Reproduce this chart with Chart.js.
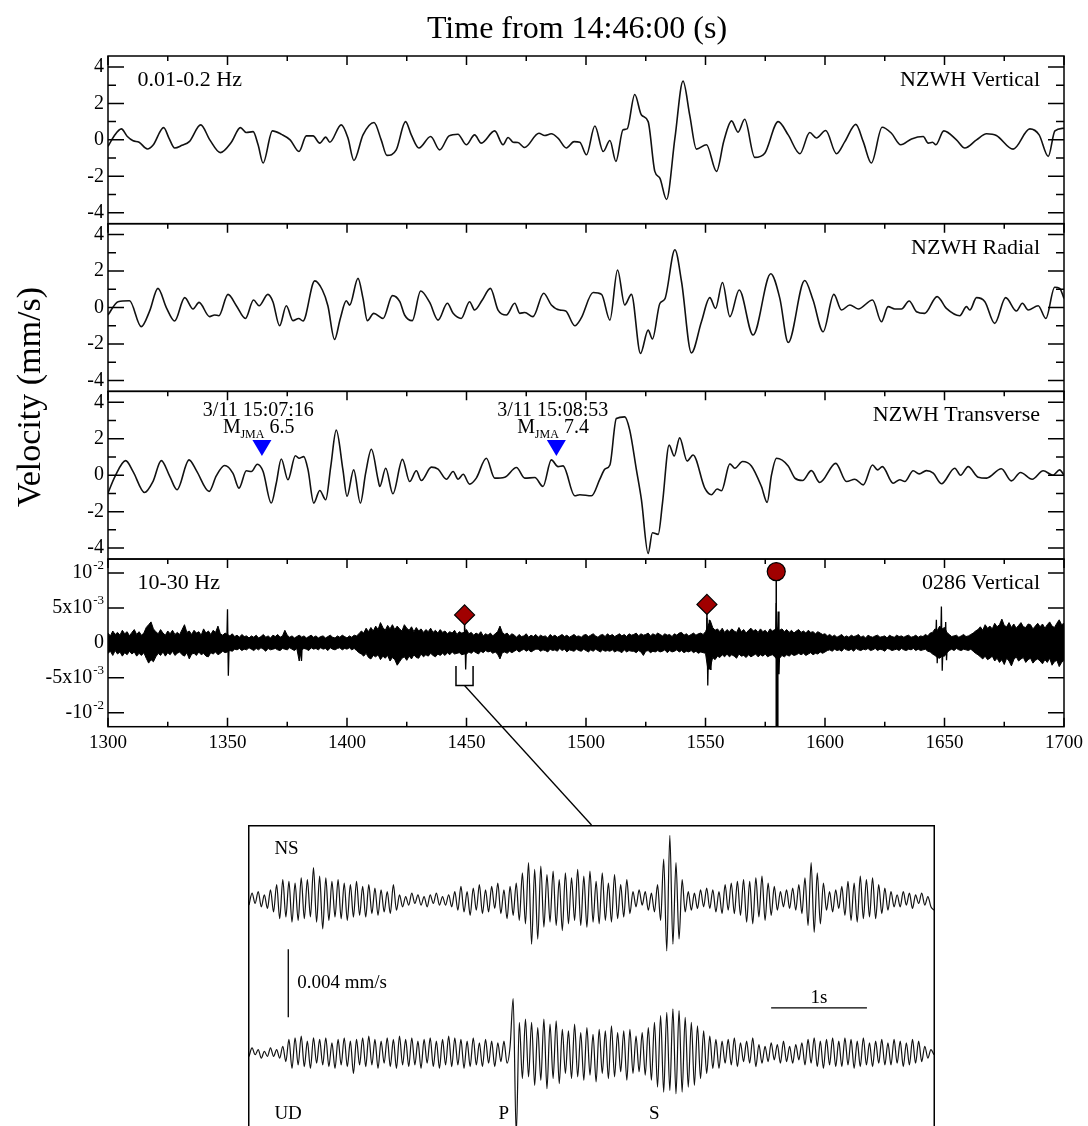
<!DOCTYPE html>
<html><head><meta charset="utf-8">
<script src="https://cdn.jsdelivr.net/npm/chart.js@4.4.1/dist/chart.umd.min.js"></script>
<style>
html,body{margin:0;padding:0;background:#fff;}
#wrap{position:relative;width:1088px;height:1126px;overflow:hidden;background:#fff;}
#main{position:absolute;left:0;top:0;}
#inset{position:absolute;left:248px;top:825px;}
</style></head><body>
<div id="wrap"><canvas id="main" width="1088" height="1126"></canvas><canvas id="inset" width="687" height="301"></canvas></div>
<script>
// ---------------- DATA ----------------
const xTickValues = [1300,1350,1400,1450,1500,1550,1600,1650,1700];
const xMinorTicks = [1325,1375,1425,1475,1525,1575,1625,1675];
const yTickValues = [-4,-2,0,2,4];
const yMinorTicks = [-3,-1,1,3];
const noiseTickValues = [-10,-5,0,5,10];
const noiseTickBase = ['-10','-5x10','0','5x10','10'];
const noiseTickExp = ['-2','-3','','-3','-2'];

const panelLeftLabels = ['0.01-0.2 Hz','','','10-30 Hz'];
const panelRightLabels = ['NZWH Vertical','NZWH Radial','NZWH Transverse','0286 Vertical'];

// Panel 1: NZWH Vertical (mm/s)
const vertTimes = [1300,1302.5,1305.6,1308,1310.5,1313,1316.5,1318.8,1323.3,1325.5,1327.9,1331,1334,1338.8,1342.6,1347,1351.6,1355.4,1357.8,1360.7,1362.8,1364.9,1368.8,1372.6,1376.2,1379.9,1383,1385.8,1388.6,1391.1,1392.8,1397.6,1400.4,1402.9,1406.7,1411.3,1414.3,1416.7,1420.6,1424.5,1426.9,1430.1,1435,1438.8,1442.7,1446.4,1449.9,1453.4,1456.2,1461.8,1465.3,1467.4,1469.5,1471.5,1474.3,1480.3,1482.7,1485.5,1488.3,1491.8,1495,1497.4,1500.2,1503.7,1507.2,1510,1512.5,1515.5,1517.2,1520.4,1523.2,1526,1528.8,1530.9,1533.7,1537.2,1540.6,1543.4,1546.2,1550.4,1554.6,1557.7,1560.9,1563.6,1566.4,1570.6,1574.8,1580.4,1584.6,1589.5,1593.6,1596.4,1600.3,1604.8,1608.3,1612.9,1616,1619.4,1623.9,1627.8,1631.7,1636.2,1641.1,1643.2,1645,1646.4,1649.7,1655,1658.5,1663.4,1667.6,1671.7,1678.7,1685.7,1689.6,1693.4,1696.2,1700];
const vertValues = [-0.36,0.2,0.6,0.2,-0.05,-0.13,-0.5,-0.3,0.67,0.1,-0.45,-0.3,-0.1,0.82,0.0,-0.7,-0.13,0.67,0.4,0.45,-0.27,-1.27,0.49,0.3,0,-0.64,0.22,0.22,-0.18,0.15,-0.13,0.82,0.1,-1.13,0.27,0.95,0,-0.85,-0.55,1.0,0.27,-0.45,0.18,-0.55,0.22,0.31,-0.27,0.27,-0.18,0.49,-0.27,0.13,-0.13,-0.15,-0.42,0.36,0.24,0.33,0.09,-0.45,-0.1,-0.13,-0.82,0.76,-0.64,-0.04,-1.18,0.55,0.6,2.49,1.36,1.0,-1.73,-2.1,-3.27,0.09,3.22,1.36,-0.51,-0.27,-1.73,-0.05,1.04,0.42,1.13,-0.96,-0.73,1.0,0.27,-0.76,0.4,0.1,0.51,-0.76,-0.1,0.85,-0.1,-1.27,0.69,0.36,-0.27,0.05,0.18,-0.18,-0.13,-0.27,0.49,0.0,-0.45,0,0.33,0.24,-0.51,0.6,0.27,-0.91,0.49,0.64];

// Panel 2: NZWH Radial (mm/s)
const radTimes = [1300,1304.2,1309,1313.9,1317.4,1320.9,1324.4,1327.9,1332.1,1335.6,1338.1,1342.5,1344.6,1346.4,1350.2,1353.7,1357.5,1360.9,1363.2,1366.9,1369,1371.8,1374.6,1377.4,1379.8,1381.6,1386.5,1389.7,1392,1394.8,1397.2,1399.7,1401.1,1404.6,1406.7,1408.5,1411.2,1415.1,1419,1422.1,1424.1,1427.3,1430.8,1434.6,1438.1,1442,1444.4,1447.8,1451.3,1453.4,1456.6,1460,1463.2,1466.7,1470.2,1472.3,1474.4,1477.8,1482.3,1485.5,1489,1491.5,1495.3,1497.9,1503,1506.5,1510,1513.2,1516.2,1519,1522.8,1526,1527.8,1530.9,1533,1537.2,1540,1544.1,1548.3,1551.8,1554.2,1557.1,1560.2,1564.1,1569.9,1577.3,1581.1,1584.6,1591.5,1595,1599.2,1603.7,1606.9,1610.4,1613.9,1619.9,1623.6,1626.4,1629.2,1632,1635.2,1638.3,1641.7,1646.9,1650.8,1656.4,1659.2,1660.6,1663.4,1666.9,1671,1675.6,1680.1,1682.6,1685,1689.2,1692.4,1696.1,1698.2,1700];
const radValues = [-0.41,0.32,0.37,-1.05,-0.2,1.05,0,-0.74,0.54,-0.08,0.28,-0.5,-0.41,-0.45,0.72,0.1,-0.6,0.41,0.1,0.72,0.32,-1.0,0.1,-0.72,-0.6,-0.74,1.46,0.96,0.1,-1.75,-0.6,0.37,0.13,1.6,0.5,-0.72,-0.32,-0.6,0.65,0.32,-0.41,-0.72,0.91,0.28,-0.69,0.23,-0.32,-0.6,0.32,-0.14,0.41,1.05,-0.14,-0.41,0.23,-0.32,-0.27,-0.5,0.78,0.14,-0.14,-0.19,-1.0,-0.6,0.82,0.72,-0.69,2.06,0.14,0.72,-2.52,-1.24,-1.73,0.22,0.47,3.17,1.4,-2.49,-0.78,0.54,-0.05,1.37,-0.5,0.96,-1.51,1.85,0.5,-1.92,1.48,0.41,-1.33,0.72,-0.14,0.14,-0.08,0.41,-0.78,0.05,-0.08,-0.08,0.36,-0.23,-0.32,0.6,-0.05,-0.45,0.05,-0.14,0.54,0.32,-0.87,0.54,-0.19,0.23,-0.14,0.1,-0.6,1.11,1.05,0.5];

// Panel 3: NZWH Transverse (mm/s)
const transTimes = [1300,1302.8,1307.4,1310.5,1315.3,1318.8,1322.3,1325.8,1328.9,1333.9,1337,1342.3,1345.3,1348.8,1352.3,1354.8,1357.9,1360,1362.5,1364.9,1368.3,1370.4,1372.5,1375.3,1378.4,1380,1381.9,1383.7,1386.1,1388.6,1391.1,1393.2,1395.5,1398.3,1400,1402.8,1405.6,1407.8,1410.2,1413,1413.7,1416.2,1419.2,1423.2,1426.2,1429,1431.1,1435.3,1438.1,1441.6,1444.4,1446.5,1448.6,1451.3,1454.1,1458.3,1461.8,1466,1470.9,1474.4,1478.6,1482,1485.5,1488.3,1490.4,1495.3,1497.4,1502.3,1505.8,1507.9,1510,1512.7,1516.2,1518.3,1521.1,1523.2,1526,1527.8,1530.2,1532,1534.8,1536.9,1539.2,1542.3,1544.8,1549.7,1552.5,1554.9,1556.7,1560.2,1562.3,1565.5,1569.2,1573.4,1575.8,1577.6,1579.7,1584.6,1587.4,1590.6,1594.3,1597.8,1604.5,1609,1612.5,1616,1619.9,1622,1624,1628.5,1631.3,1633.4,1636.9,1639.4,1642.4,1645.3,1648.7,1654.3,1656.7,1659.9,1664.1,1667.6,1673.8,1678,1681.8,1686.7,1691.3,1695.4,1698.2,1700];
const transValues = [-0.98,-0.1,0.8,0.2,-0.95,-0.35,0.8,-0.05,-0.8,0.84,0.25,-0.89,-0.04,0.53,0.1,-0.71,0.24,0.2,0.6,0.2,-1.53,-0.44,0.89,-0.25,1.07,0.93,1.02,0.29,-1.53,-0.84,-1.35,0.47,2.47,0.29,-1.16,0.29,-1.53,0.11,1.42,-0.25,-0.62,0.38,-1.02,0.87,-0.35,0.24,-0.29,0.44,0.33,-0.22,0.2,-0.22,0.05,-0.49,-0.16,0.93,-0.16,-0.11,0.42,-0.16,-0.13,-0.62,0.84,0.47,0.51,-1.13,-1.07,-1.13,-0.22,0.33,0.56,3.11,3.2,2.47,0.29,-1.35,-4.29,-3.16,-3.25,-1.53,1.65,1.05,2.05,0.78,1.11,-0.71,-1.07,-0.76,-0.85,0.62,0.38,0.75,0.51,-0.62,-1.49,0,0.93,0.51,-0.16,-0.29,0.25,-0.4,0.65,-0.35,-0.22,-0.53,0.56,0.29,0.47,-0.44,-0.25,-0.35,0.24,0.07,0.25,0.11,-0.47,0.38,0,0.47,-0.11,-0.16,0.35,-0.31,0.15,-0.22,0.24,0,0.29,0];

// Panel 4: station 0286 vertical, 10-30 Hz; envelope of the trace (1e-3 mm/s), one value per second from 1300 s
const noiseStart = 1300, noiseStep = 1;
const noiseUpper = [
1.4,1.0,1.7,1.2,1.5,1.1,1.8,1.3,1.6,1.0,
1.5,1.9,1.2,1.6,1.1,1.4,2.2,2.6,3.0,2.0,
1.6,1.3,1.9,1.4,1.1,1.7,1.3,1.8,1.2,1.5,
1.2,1.9,2.6,1.5,1.7,1.2,1.8,1.4,1.6,1.1,
2.0,1.4,1.7,1.2,1.8,1.5,2.4,1.3,1.1,1.4,
1.2,1.0,1.3,0.9,1.1,0.8,1.2,0.9,1.0,0.7,
1.0,0.8,1.1,0.7,0.9,1.2,0.8,1.0,0.7,1.1,
0.9,1.2,0.8,1.0,1.8,1.1,0.8,1.0,0.7,0.9,
1.1,0.8,1.0,0.7,0.9,1.1,0.8,1.0,0.7,0.9,
1.0,0.7,0.9,1.1,0.8,0.7,1.0,0.8,1.1,0.9,
0.7,1.0,0.8,1.1,1.0,1.3,1.7,1.4,2.1,1.6,
2.2,1.7,2.4,1.9,2.9,2.2,1.8,2.5,2.0,2.6,
1.9,2.4,2.0,1.7,2.6,2.1,1.8,2.3,1.6,2.2,
1.7,2.0,1.5,1.9,1.6,2.1,1.5,1.8,1.4,1.9,
1.5,1.7,1.3,1.6,1.4,1.8,1.2,1.6,1.4,1.5,
1.9,1.3,1.5,1.1,1.4,1.2,1.6,1.0,1.3,1.1,
1.4,1.0,1.3,1.6,2.4,1.5,1.2,1.4,1.0,1.3,
1.1,0.8,1.2,0.9,1.0,1.3,0.8,1.1,0.9,1.2,
0.8,1.1,0.9,1.0,0.7,1.2,0.9,1.1,0.8,1.0,
1.2,0.9,1.1,0.8,1.0,1.2,0.9,1.0,0.8,1.1,
1.2,0.9,1.1,1.3,1.0,0.8,1.1,1.2,0.9,1.3,
1.0,1.2,0.9,1.1,1.3,1.0,1.2,0.9,1.3,1.1,
1.2,1.4,1.0,1.3,1.1,1.2,1.4,1.0,1.3,1.1,
1.4,1.2,1.0,1.3,1.1,1.2,0.9,1.3,1.1,1.4,
1.5,1.1,1.3,1.0,1.2,1.4,1.1,1.3,1.4,1.2,
1.6,2.4,3.2,2.2,1.8,2.0,1.6,2.1,1.5,1.9,
1.6,2.0,1.7,1.5,2.2,1.6,1.9,1.4,1.8,2.1,
1.7,1.9,1.5,2.0,1.6,1.8,1.4,2.0,1.7,1.9,
2.2,1.8,2.0,1.6,1.9,1.5,1.8,1.4,1.7,1.9,
1.5,1.7,1.4,1.8,1.5,1.6,1.3,1.6,1.4,1.2,
1.3,1.0,1.2,0.9,1.1,0.8,1.0,1.2,0.8,1.0,
0.8,1.1,0.9,1.0,1.2,0.8,1.0,0.7,1.1,0.9,
0.8,1.0,1.1,0.8,0.9,1.0,0.7,1.1,0.9,0.8,
1.1,0.9,1.0,0.8,1.0,1.1,0.8,0.9,1.1,0.8,
1.0,0.9,1.2,1.0,1.4,1.5,2.0,1.8,2.4,2.0,
2.2,1.5,1.2,0.9,1.0,1.1,0.8,1.0,1.2,0.9,
1.0,1.2,1.4,1.7,1.9,2.3,1.8,2.6,2.1,2.4,
2.0,2.8,2.3,2.6,3.4,2.5,2.3,2.9,2.2,2.7,
2.1,2.5,2.9,2.3,2.2,2.7,2.6,2.0,2.4,2.8,
2.3,2.7,2.1,2.6,3.0,2.4,2.2,2.8,3.3,2.6,
2.8];
const noiseLower = [
-1.5,-1.2,-1.8,-1.1,-1.6,-1.3,-1.9,-1.4,-1.7,-1.2,
-1.6,-1.3,-1.9,-1.5,-1.8,-1.4,-2.2,-2.9,-2.4,-2.7,
-2.0,-1.5,-1.8,-1.3,-1.9,-1.4,-1.7,-1.2,-1.8,-1.5,
-1.3,-1.7,-1.9,-1.4,-2.3,-1.6,-1.5,-1.8,-1.3,-1.7,
-1.5,-1.9,-2.0,-1.4,-1.6,-1.3,-1.7,-1.5,-1.2,-1.4,
-1.3,-1.1,-1.2,-0.9,-1.0,-0.8,-1.1,-0.9,-1.0,-0.7,
-0.9,-1.1,-0.8,-1.0,-0.7,-0.9,-1.2,-0.8,-1.0,-0.9,
-0.8,-1.0,-1.1,-0.8,-0.9,-1.0,-0.7,-0.9,-1.1,-0.8,
-2.6,-1.0,-0.8,-0.9,-1.1,-0.7,-0.9,-0.8,-1.0,-0.7,
-0.9,-0.8,-1.1,-0.7,-0.9,-1.0,-0.8,-0.7,-1.0,-0.8,
-0.9,-0.7,-1.0,-0.8,-1.1,-1.4,-1.6,-1.9,-1.5,-2.1,
-2.3,-1.8,-2.0,-1.7,-2.4,-1.9,-2.2,-1.8,-2.6,-2.1,
-2.4,-3.2,-2.7,-2.2,-2.0,-2.5,-1.9,-2.3,-1.7,-2.1,
-2.2,-1.6,-2.0,-1.7,-1.9,-1.5,-1.8,-2.0,-1.6,-1.8,
-1.5,-1.8,-1.4,-1.7,-1.3,-1.6,-1.5,-1.4,-1.7,-1.6,
-1.6,-1.3,-1.5,-1.2,-1.4,-1.6,-1.2,-1.4,-1.1,-1.3,
-1.2,-1.5,-1.3,-1.6,-2.3,-1.4,-1.3,-1.5,-1.2,-1.4,
-1.2,-1.0,-1.3,-1.1,-0.9,-1.2,-1.0,-1.3,-1.1,-0.9,
-0.9,-1.2,-1.0,-1.1,-1.3,-0.9,-1.1,-1.0,-1.2,-0.8,
-1.1,-0.9,-1.3,-1.0,-1.1,-1.2,-0.9,-1.1,-1.2,-0.9,
-1.1,-1.3,-1.0,-1.2,-0.9,-1.1,-1.3,-1.0,-1.2,-1.1,
-1.2,-1.0,-1.3,-1.1,-1.2,-1.4,-1.0,-1.3,-1.1,-1.2,
-1.2,-1.4,-1.1,-1.3,-1.8,-1.2,-1.1,-1.4,-1.2,-1.3,
-1.1,-1.3,-1.2,-1.0,-1.4,-1.1,-1.3,-1.2,-1.0,-1.3,
-1.1,-1.4,-1.2,-1.3,-1.1,-1.4,-1.2,-1.5,-1.3,-1.4,
-1.5,-3.8,-3.6,-2.1,-2.4,-1.9,-2.1,-1.7,-2.0,-1.6,
-2.0,-1.7,-1.9,-2.2,-1.6,-1.9,-1.8,-2.1,-1.7,-2.0,
-1.8,-1.6,-2.0,-1.7,-1.9,-1.6,-2.0,-1.8,-1.7,-2.0,
-2.4,-2.2,-1.8,-2.0,-1.7,-1.9,-1.6,-1.8,-1.7,-1.5,
-1.7,-1.5,-1.8,-1.6,-1.4,-1.7,-1.5,-1.6,-1.3,-1.5,
-1.3,-1.1,-1.0,-1.2,-0.9,-1.1,-1.0,-1.2,-0.8,-1.0,
-1.1,-0.9,-1.2,-0.8,-1.0,-1.1,-0.9,-1.0,-0.8,-1.1,
-1.0,-0.8,-1.1,-0.9,-1.0,-1.2,-0.8,-0.9,-1.1,-1.0,
-0.9,-1.1,-0.8,-1.0,-1.1,-0.9,-1.0,-0.8,-1.1,-0.9,
-1.1,-1.0,-0.9,-1.2,-1.3,-1.6,-1.8,-2.1,-2.2,-1.9,
-1.9,-1.4,-1.1,-0.9,-1.1,-0.8,-1.0,-1.1,-0.9,-1.0,
-1.1,-0.9,-1.2,-1.5,-1.7,-2.0,-2.3,-1.9,-2.4,-2.2,
-1.9,-2.6,-2.2,-2.8,-2.4,-3.1,-2.2,-2.6,-3.3,-2.4,
-2.0,-2.6,-2.3,-2.1,-2.8,-2.4,-2.2,-2.9,-2.5,-2.3,
-2.6,-3.0,-2.4,-2.8,-2.2,-3.2,-2.7,-2.5,-3.4,-2.8,
-2.5];
// isolated spikes (1e-3 mm/s)
const spikeTimes = [1350.0,1380.6,1449.3,1550.6,1551.6,1579.6,1580.4,1646.6,1648.7,1650.5];
const spikeUp    = [4.8,1.0,2.1,3.6,3.3,5.7,4.5,3.3,5.2,3.0];
const spikeDown  = [-4.7,-2.6,-3.8,-6.1,-3.8,-12.5,-4.5,-2.9,-4.0,-2.5];
// event markers on the 0286 trace
const markerTimes = [1449.2,1550.6,1579.6];
const markerValues = [4.0,5.5,10.2];
const markerShapes = ['diamond','diamond','circle'];
const markerStemEnds = [0,0,-12];
// JMA events on the transverse panel
const eventTimes = [1364.4,1487.6];
const eventLevel = 1.05;
const eventDates = ['3/11 15:07:16','3/11 15:08:53'];
const eventMags = ['6.5','7.4'];
// zoom window
const insetStart = 1445.6, insetDuration = 7.15;
const bracketTop = -3.3, bracketBottom = -6.1;

// Inset: NS and UD traces (1e-3 mm/s), evenly sampled over the window
const insetNS = [
-0.3,0.4,-0.2,0.5,-0.4,0.3,-0.5,0.6,-0.7,
0.9,-1.1,1.2,-1.0,1.1,-1.3,1.0,-1.2,1.3,-1.1,1.2,-1.0,1.9,-1.3,1.4,-1.7,1.3,-1.2,1.1,-1.0,1.2,-1.1,1.0,-1.2,0.9,-1.0,1.1,-0.9,0.8,-1.0,0.9,-0.8,0.7,-0.9,0.6,-0.7,0.5,-0.8,0.9,-0.6,
0.3,-0.4,0.2,-0.3,0.4,-0.2,0.3,-0.3,0.2,-0.4,0.3,-0.2,0.4,-0.3,0.2,-0.3,0.3,-0.4,0.5,
-0.6,0.8,-0.7,0.5,-0.9,0.7,-0.6,0.9,-0.8,0.6,-0.7,0.8,-0.5,1.0,-0.8,0.6,-1.1,0.8,-0.9,1.0,-1.2,
1.6,-1.4,2.2,-2.6,1.8,-2.3,2.0,-1.6,1.5,-1.3,1.7,-1.5,1.2,-1.8,1.6,-1.4,1.3,-1.2,1.8,-1.5,1.4,-1.6,1.7,-1.3,1.1,-1.4,1.6,-1.2,1.0,-1.3,1.5,-1.1,0.9,-1.0,1.2,-0.8,
0.5,-0.4,0.6,-0.3,0.5,-0.6,0.4,-0.7,0.9,
-1.2,2.4,-3.0,3.8,-2.6,2.2,-2.3,1.2,
-0.7,0.5,-0.6,0.4,-0.5,0.6,-0.4,0.7,-0.5,0.6,-0.7,0.5,-0.8,0.9,-0.6,1.0,-0.8,1.1,-0.9,1.2,
-1.3,1.1,-1.4,1.3,-1.0,1.4,-1.2,1.0,-0.9,0.8,
-0.6,0.5,-0.4,0.6,-0.5,0.7,-0.6,0.9,-0.8,
1.3,-1.5,2.2,-1.9,1.6,-1.4,1.0,
-0.6,0.5,-0.7,0.6,-0.5,0.8,
-0.9,1.1,-1.2,1.0,-1.3,1.4,-1.1,1.2,-1.0,1.3,-1.1,0.9,-0.8,0.7,-0.6,
0.5,-0.4,0.3,-0.4,0.5,-0.3,0.4,-0.5,0.3,-0.2,0.4,-0.3,0.2,-0.4,-0.6];
const insetUD = [
-0.2,0.3,-0.1,0.2,-0.3,0.1,-0.2,0.3,-0.2,0.2,-0.3,0.4,-0.5,
0.8,-0.9,0.9,-0.7,1.0,-0.8,0.7,-0.9,0.9,-0.6,
0.8,-0.7,0.9,-0.8,0.6,-0.9,0.8,-0.7,0.9,-0.8,
0.7,-1.2,0.8,-0.7,0.9,-0.8,1.0,-0.7,0.8,-0.9,
0.7,-0.6,0.9,-0.8,0.8,-0.9,1.0,-0.7,0.8,-0.8,
0.9,-0.7,0.7,-0.9,0.8,-0.6,0.9,-0.8,0.7,-0.9,
0.8,-0.7,1.0,-0.8,0.9,-0.7,0.8,-0.9,0.7,-0.8,
0.9,-0.7,0.6,-0.8,0.8,-0.6,0.7,-0.8,0.6,-0.5,
0.7,-0.6,0.4,3.2,-4.8,1.8,
-1.5,2.0,-1.4,1.8,-1.9,1.5,-1.6,2.0,-2.1,1.7,
-1.5,1.9,-1.8,1.4,-1.2,1.3,-1.5,1.7,-1.4,1.2,
-1.6,1.5,-1.3,1.1,-1.7,1.4,-1.2,1.3,-1.5,1.6,
-1.4,1.2,-1.1,1.3,-1.6,1.4,-1.2,1.0,-1.1,1.2,
-1.3,1.5,
-1.6,1.8,-2.0,2.2,-2.3,2.4,-2.2,2.6,-2.4,2.5,-2.3,2.1,-2.0,1.8,-1.9,1.6,-1.5,1.3,-1.2,1.0,-0.9,
0.8,-0.9,0.7,-0.6,0.8,-0.7,0.9,-0.8,0.6,-0.5,
0.7,-0.6,0.9,-0.8,0.5,-0.6,0.4,-0.5,0.6,-0.4,
0.5,-0.6,0.7,-0.5,0.4,-0.6,0.5,-0.4,0.6,-0.7,
0.8,-0.6,0.9,-0.8,0.7,-0.9,0.8,-0.7,0.9,-0.8,
0.7,-0.8,0.9,-0.7,0.8,-0.9,0.7,-0.8,0.9,-0.7,
0.6,-0.8,0.7,-0.6,0.8,-0.7,0.6,-0.7,0.8,-0.6,
0.7,-0.8,0.6,-0.7,0.8,-0.6,0.7,-0.5,0.4,-0.3,
0.2,-0.1];
const insetLabels = ['NS','UD','P','S'];
const phaseTimes = [2.66,4.23];
const scaleBarValue = 4;      // 0.004 mm/s in 1e-3 mm/s
const scaleBarText = '0.004 mm/s';
const timeBarValue = 1;       // 1 s
const timeBarText = '1s';

// ---------------- CHART ----------------
const FONT = "'Liberation Serif','Times New Roman',serif";
Chart.defaults.font.family = FONT;
Chart.defaults.color = '#000';

const pts = (ts, vs) => ts.map((t,i)=>({x:t,y:vs[i]}));
const even = (vs, t0, dt) => vs.map((v,i)=>({x:t0+i*dt,y:v}));
const spikePts = [];
spikeTimes.forEach((t,i)=>{
  spikePts.push({x:t-0.3,y:0},{x:t,y:spikeUp[i]},{x:t+0.35,y:spikeDown[i]},{x:t+0.7,y:0},{x:t+0.7,y:null});
});

const traceStyle = {borderColor:'#111',borderWidth:1.6,pointRadius:0,fill:false,cubicInterpolationMode:'monotone'};

function yPanel(range, ticks, labelled){
  return {
    type:'linear', position:'left', stack:'panels', stackWeight:1,
    min:-range, max:range,
    grid:{display:false, drawTicks:false}, border:{display:false},
    ticks:{font:{family:FONT,size:20}, color:'#000', padding:4, autoSkip:false,
      callback: v => labelled ? String(v) : ''},
    afterBuildTicks: s => { s.ticks = ticks.map(v=>({value:v})); },
    afterFit: s => { s.width = 108; }
  };
}

function drawText(ctx, txt, x, y, size, align, baseline){
  ctx.font = size + 'px ' + FONT;
  ctx.textAlign = align; ctx.textBaseline = baseline;
  ctx.fillText(txt, x, y);
}

const deco = {
  id:'deco',
  afterDraw(chart){
    const {ctx, chartArea:ca, scales} = chart;
    const xs = scales.x;
    ctx.save();
    ctx.strokeStyle = '#000'; ctx.fillStyle = '#000'; ctx.lineWidth = 1.5;
    ['y1','y2','y3','y4'].forEach((id,k)=>{
      const s = scales[id];
      ctx.strokeRect(ca.left, s.top, ca.right-ca.left, s.bottom-s.top);
      ctx.beginPath();
      xTickValues.forEach(v=>{ const p = xs.getPixelForValue(v);
        ctx.moveTo(p, s.top); ctx.lineTo(p, s.top+9);
        if (k===3){ ctx.moveTo(p, s.bottom); ctx.lineTo(p, s.bottom-9); } });
      xMinorTicks.forEach(v=>{ const p = xs.getPixelForValue(v);
        ctx.moveTo(p, s.top); ctx.lineTo(p, s.top+5);
        if (k===3){ ctx.moveTo(p, s.bottom); ctx.lineTo(p, s.bottom-5); } });
      const major = k<3 ? yTickValues : noiseTickValues;
      major.forEach(v=>{ const p = s.getPixelForValue(v);
        ctx.moveTo(ca.left, p); ctx.lineTo(ca.left+16, p);
        ctx.moveTo(ca.right, p); ctx.lineTo(ca.right-16, p); });
      if (k<3) yMinorTicks.forEach(v=>{ const p = s.getPixelForValue(v);
        ctx.moveTo(ca.left, p); ctx.lineTo(ca.left+8, p);
        ctx.moveTo(ca.right, p); ctx.lineTo(ca.right-8, p); });
      ctx.stroke();
      if (panelLeftLabels[k]) drawText(ctx, panelLeftLabels[k], ca.left+29.5, s.top+30, 22, 'left', 'alphabetic');
      drawText(ctx, panelRightLabels[k], ca.right-24, s.top+30, 22, 'right', 'alphabetic');
    });
    // panel 4 tick labels with exponents
    const y4 = scales.y4;
    noiseTickValues.forEach((v,i)=>{
      const p = y4.getPixelForValue(v);
      const base = noiseTickBase[i], sup = noiseTickExp[i];
      ctx.font = '20px ' + FONT; const bw = ctx.measureText(base).width;
      ctx.font = '13px ' + FONT; const sw = sup ? ctx.measureText(sup).width + 1 : 0;
      const right = ca.left - 4;
      drawText(ctx, base, right - sw - bw, p, 20, 'left', 'middle');
      if (sup) drawText(ctx, sup, right - sw + 1, p - 7, 13, 'left', 'middle');
    });
    // JMA events
    const y3 = scales.y3;
    eventTimes.forEach((t,i)=>{
      const px = xs.getPixelForValue(t), py = y3.getPixelForValue(eventLevel);
      ctx.fillStyle = '#0000ff';
      ctx.beginPath(); ctx.moveTo(px, py); ctx.lineTo(px-9.5, py-16); ctx.lineTo(px+9.5, py-16); ctx.closePath(); ctx.fill();
      ctx.fillStyle = '#000';
      drawText(ctx, eventDates[i], px-3.6, py-40, 20, 'center', 'alphabetic');
      drawText(ctx, 'M', px-39, py-23.4, 20, 'left', 'alphabetic');
      drawText(ctx, 'JMA', px-21.5, py-17.6, 12, 'left', 'alphabetic');
      drawText(ctx, eventMags[i], px+7.7, py-23.4, 20, 'left', 'alphabetic');
    });
    // markers
    markerTimes.forEach((t,i)=>{
      const px = xs.getPixelForValue(t), py = y4.getPixelForValue(markerValues[i]);
      ctx.strokeStyle = '#000'; ctx.lineWidth = 1.5;
      ctx.beginPath(); ctx.moveTo(px, py); ctx.lineTo(px, y4.getPixelForValue(markerStemEnds[i])); ctx.stroke();
      ctx.fillStyle = '#a00000'; ctx.lineWidth = 1.2;
      ctx.beginPath();
      if (markerShapes[i]==='circle') ctx.arc(px, py, 9, 0, Math.PI*2);
      else { ctx.moveTo(px, py-10); ctx.lineTo(px+10, py); ctx.lineTo(px, py+10); ctx.lineTo(px-10, py); ctx.closePath(); }
      ctx.fill(); ctx.stroke();
    });
    // bracket + connector to inset
    ctx.strokeStyle = '#000'; ctx.lineWidth = 1.5;
    const bx0 = xs.getPixelForValue(insetStart), bx1 = xs.getPixelForValue(insetStart+insetDuration);
    const byt = y4.getPixelForValue(bracketTop), byb = y4.getPixelForValue(bracketBottom);
    ctx.beginPath(); ctx.moveTo(bx0, byt); ctx.lineTo(bx0, byb); ctx.lineTo(bx1, byb); ctx.lineTo(bx1, byt); ctx.stroke();
    const ins = document.getElementById('inset');
    ctx.lineWidth = 1.3;
    ctx.beginPath(); ctx.moveTo((bx0+bx1)/2, byb);
    ctx.lineTo(ins.offsetLeft + ins.width/2, ins.offsetTop); ctx.stroke();
    // titles
    ctx.fillStyle = '#000';
    drawText(ctx, 'Time from 14:46:00 (s)', 577, 30, 32, 'center', 'middle');
    ctx.save(); ctx.translate(31, 397); ctx.rotate(-Math.PI/2);
    drawText(ctx, 'Velocity (mm/s)', 0, 0, 34, 'center', 'middle');
    ctx.restore();
    ctx.restore();
  }
};

new Chart(document.getElementById('main'), {
  type:'line',
  data:{datasets:[
    Object.assign({data:pts(vertTimes,vertValues), yAxisID:'y1'}, traceStyle),
    Object.assign({data:pts(radTimes,radValues), yAxisID:'y2'}, traceStyle),
    Object.assign({data:pts(transTimes,transValues), yAxisID:'y3'}, traceStyle),
    {data:even(noiseUpper,noiseStart,noiseStep), yAxisID:'y4', borderColor:'#000', backgroundColor:'#000', borderWidth:1, pointRadius:0, fill:'+1', tension:0},
    {data:even(noiseLower,noiseStart,noiseStep), yAxisID:'y4', borderColor:'#000', borderWidth:1, pointRadius:0, fill:false, tension:0},
    {data:spikePts, yAxisID:'y4', borderColor:'#000', borderWidth:1.3, pointRadius:0, fill:false, tension:0, spanGaps:false}
  ]},
  options:{
    responsive:false, animation:false, devicePixelRatio:1,
    layout:{padding:{top:56,right:24,bottom:369.3,left:0}},
    plugins:{legend:{display:false}, tooltip:{enabled:false}, title:{display:false}},
    scales:{
      x:{type:'linear', min:1300, max:1700, position:'bottom',
        grid:{display:false, drawTicks:false}, border:{display:false},
        ticks:{font:{family:FONT,size:19}, color:'#000', padding:5, autoSkip:false, maxRotation:0, callback:v=>String(v)},
        afterBuildTicks: s => { s.ticks = xTickValues.map(v=>({value:v})); },
        afterFit: s => { s.height = 30; }},
      // stacked scales are laid out bottom-up, so the lowest panel is declared first
      y4: yPanel(12, noiseTickValues, false),
      y3: yPanel(4.6, yTickValues, true),
      y2: yPanel(4.6, yTickValues, true),
      y1: yPanel(4.6, yTickValues, true)
    }
  },
  plugins:[deco]
});

// ---------------- INSET ----------------
const insetDeco = {
  id:'insetDeco',
  afterDraw(chart){
    const {ctx, scales:{x, yNS, yUD}} = chart;
    const W = chart.width, H = chart.height;
    ctx.save();
    ctx.strokeStyle = '#000'; ctx.fillStyle = '#000'; ctx.lineWidth = 1.5;
    ctx.beginPath(); ctx.moveTo(0.75, H); ctx.lineTo(0.75, 0.75); ctx.lineTo(W-0.75, 0.75); ctx.lineTo(W-0.75, H); ctx.stroke();
    const lx = x.getPixelForValue(0.265);
    drawText(ctx, insetLabels[0], lx, yNS.getPixelForValue(2.7), 19, 'left', 'alphabetic');
    drawText(ctx, insetLabels[1], lx, yUD.getPixelForValue(-3.88), 19, 'left', 'alphabetic');
    drawText(ctx, insetLabels[2], x.getPixelForValue(phaseTimes[0]), yUD.getPixelForValue(-3.88), 19, 'center', 'alphabetic');
    drawText(ctx, insetLabels[3], x.getPixelForValue(phaseTimes[1]), yUD.getPixelForValue(-3.88), 19, 'center', 'alphabetic');
    // amplitude scale bar
    const sx = x.getPixelForValue(0.41);
    const s0 = yUD.getPixelForValue(2.1), s1 = yUD.getPixelForValue(2.1+scaleBarValue);
    ctx.lineWidth = 1.3;
    ctx.beginPath(); ctx.moveTo(sx, s0); ctx.lineTo(sx, s1); ctx.stroke();
    drawText(ctx, scaleBarText, sx+9, (s0+s1)/2, 19, 'left', 'middle');
    // time scale bar
    const tx0 = x.getPixelForValue(5.45), tx1 = x.getPixelForValue(5.45+timeBarValue);
    const ty = yUD.getPixelForValue(2.66);
    ctx.beginPath(); ctx.moveTo(tx0, ty); ctx.lineTo(tx1, ty); ctx.stroke();
    drawText(ctx, timeBarText, (tx0+tx1)/2, ty-4.5, 19, 'center', 'alphabetic');
    ctx.restore();
  }
};
const insetStyle = {borderColor:'#111',borderWidth:1.2,pointRadius:0,fill:false,cubicInterpolationMode:'monotone'};
new Chart(document.getElementById('inset'), {
  type:'line',
  data:{datasets:[
    Object.assign({data:even(insetNS,0,insetDuration/(insetNS.length-1)), yAxisID:'yNS'}, insetStyle),
    Object.assign({data:even(insetUD,0,insetDuration/(insetUD.length-1)), yAxisID:'yUD'}, insetStyle)
  ]},
  options:{
    responsive:false, animation:false, devicePixelRatio:1,
    layout:{padding:{top:0,right:1,bottom:0,left:1}},
    plugins:{legend:{display:false}, tooltip:{enabled:false}},
    scales:{
      x:{type:'linear', min:0, max:insetDuration, display:false},
      yUD:{type:'linear', position:'left', stack:'ins', stackWeight:1, min:-4.29, max:4.56,
        grid:{display:false, drawTicks:false}, border:{display:false}, ticks:{display:false}, afterFit:s=>{s.width=0;}},
      yNS:{type:'linear', position:'left', stack:'ins', stackWeight:1, min:-4.44, max:4.41,
        grid:{display:false, drawTicks:false}, border:{display:false}, ticks:{display:false}, afterFit:s=>{s.width=0;}}
    }
  },
  plugins:[insetDeco]
});
</script>
</body></html>
